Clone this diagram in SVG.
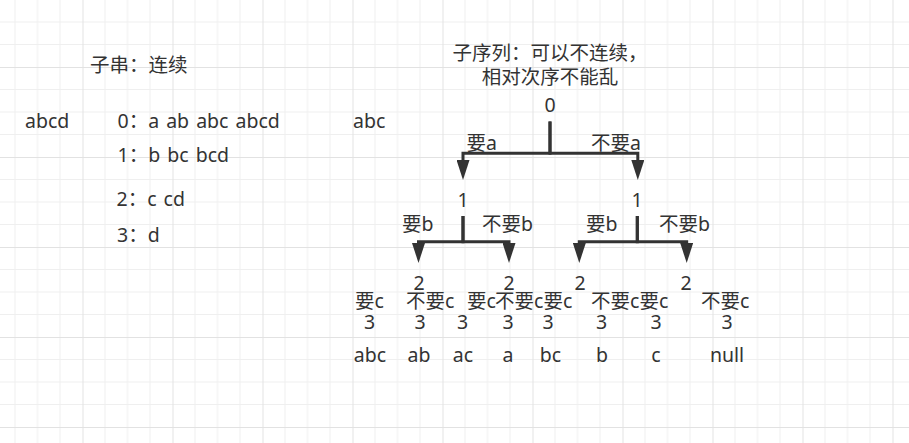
<svg xmlns="http://www.w3.org/2000/svg" width="909" height="443" viewBox="0 0 909 443">
<style>
text{font-family:"Noto Sans","Noto Sans CJK SC",sans-serif;font-size:19.5px;fill:#333333}
.m{text-anchor:middle}
.w{word-spacing:2px}
.e{fill:none;stroke:#333333;stroke-width:3;marker-end:url(#arr)}
.minor{stroke:#efefef;stroke-width:1}
.major{stroke:#e2e2e2;stroke-width:1}
</style>
<defs>
<pattern id="grid" patternUnits="userSpaceOnUse" x="-7.5" y="-23" width="90" height="90">
<path class="minor" d="M22.5 0V90M45 0V90M67.5 0V90M0 22.5H90M0 45H90M0 67.5H90"/>
<path class="major" d="M0.5 0V90M0 0.5H90"/>
</pattern>
<marker id="arr" markerUnits="userSpaceOnUse" markerWidth="20" markerHeight="13" viewBox="0 0 20 13" refX="0" refY="6.5" orient="auto">
<path d="M0 0L20 6.5L0 13Z" fill="#333333"/>
</marker>
</defs>
<rect width="909" height="443" fill="#ffffff"/>
<rect width="909" height="443" fill="url(#grid)"/>

<g id="left-title"><text x="90" y="71.5">子串：连续</text></g>
<g id="abcd"><text x="25" y="128">abcd</text></g>
<g id="list0"><text class="w" x="117.5" y="128">0：a ab abc abcd</text></g>
<g id="list1"><text class="w" x="117.5" y="161.5">1：b bc bcd</text></g>
<g id="list2"><text class="w" x="116.5" y="206">2：c cd</text></g>
<g id="list3"><text x="117" y="241.5">3：d</text></g>

<g id="right-title"><text class="m" x="550" y="60">子序列：可以不连续，</text><text class="m" x="550" y="83.5">相对次序不能乱</text></g>
<g id="abc"><text x="353" y="128">abc</text></g>

<g id="n0"><text class="m" x="550" y="112">0</text></g>
<g id="n1a"><text class="m" x="463" y="207">1</text></g>
<g id="n1b"><text class="m" x="637" y="207">1</text></g>
<g id="n2a"><text class="m" x="419" y="290">2</text></g>
<g id="n2b"><text class="m" x="509" y="290">2</text></g>
<g id="n2c"><text class="m" x="580" y="290">2</text></g>
<g id="n2d"><text class="m" x="686" y="290">2</text></g>

<g id="labels-a"><text x="466.5" y="150">要a</text><text x="591" y="150">不要a</text></g>
<g id="labels-b"><text x="402" y="231">要b</text><text x="482" y="231">不要b</text><text x="586" y="231">要b</text><text x="659" y="231">不要b</text></g>
<g id="labels-c">
<text x="355" y="308">要c</text>
<text x="406" y="308">不要c</text>
<text x="467" y="308">要c</text>
<text x="495" y="308">不要c</text>
<text x="543.5" y="308">要c</text>
<text x="591" y="308">不要c</text>
<text x="639.5" y="308">要c</text>
<text x="701" y="308">不要c</text>
</g>
<g id="n3">
<text class="m" x="369.5" y="329">3</text>
<text class="m" x="420" y="329">3</text>
<text class="m" x="462.5" y="329">3</text>
<text class="m" x="508" y="329">3</text>
<text class="m" x="548" y="329">3</text>
<text class="m" x="601.5" y="329">3</text>
<text class="m" x="656" y="329">3</text>
<text class="m" x="727" y="329">3</text>
</g>
<g id="results">
<text class="m" x="370" y="362">abc</text>
<text class="m" x="419" y="362">ab</text>
<text class="m" x="463" y="362">ac</text>
<text class="m" x="508" y="362">a</text>
<text class="m" x="550.5" y="362">bc</text>
<text class="m" x="602" y="362">b</text>
<text class="m" x="656" y="362">c</text>
<text class="m" x="727" y="362">null</text>
</g>

<g id="connectors">
<path class="e" d="M550 121.5V153.3H463V160"/>
<path class="e" d="M550 121.5V153.3H637.8V160"/>
<path class="e" d="M463 216V241.7H418.5V243"/>
<path class="e" d="M463 216V241.7H509V243"/>
<path class="e" d="M637.3 216V241.7H579.3V243"/>
<path class="e" d="M637.3 216V241.7H686.7V243"/>
</g>
</svg>
